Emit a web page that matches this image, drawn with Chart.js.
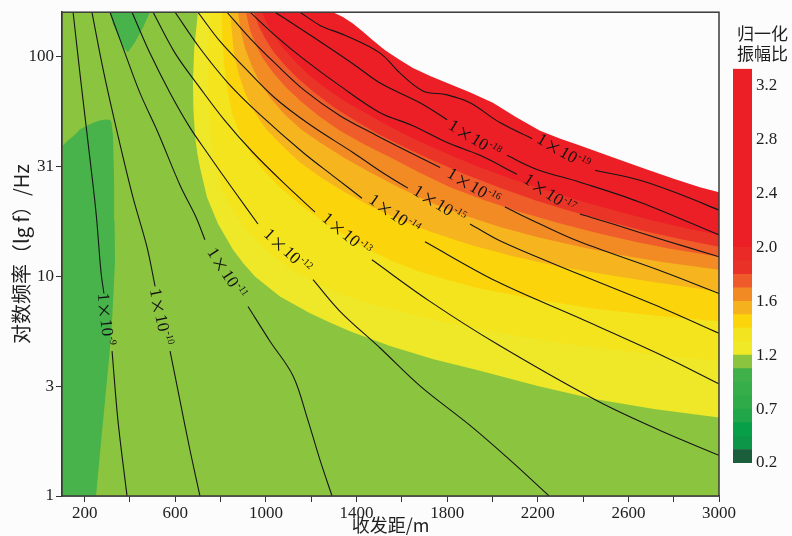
<!DOCTYPE html>
<html>
<head>
<meta charset="utf-8">
<script src="https://cdn.jsdelivr.net/npm/chart.js@4/dist/chart.umd.min.js"></script>
<style>
  html, body { margin:0; padding:0; background:#fcfcfc; }
  #wrap { position:relative; width:792px; height:536px; overflow:hidden; }
  #main { position:absolute; left:0; top:0; }
  #bar { position:absolute; left:720px; top:0; }
</style>
</head>
<body>
<div id="wrap">
  <canvas id="main" width="792" height="536"></canvas>
  <canvas id="bar" width="72" height="536"></canvas>
</div>
<script>
// ---------------- data (x: offset in m, y: lg f) ----------------
const YMAX = 2.2;
const xTickValues = [200,400,600,800,1000,1200,1400,1600,1800,2000,2200,2400,2600,2800,3000];
const xTickLabels = [200,600,1000,1400,1800,2200,2600,3000];
const yTickValues = [0, 0.5, 1, 1.5, 2];
const yTickLabels = ['1', '3', '10', '31', '100'];

// filled bands (boundary, closed through the plot corners)
const greenBase = [[100,0],[3000,0],[3000,2.2],[100,2.2]];
const greenLeft = [[100,0],[250,0],[270,0.220],[290,0.433],[308,0.630],[321,0.795],[334,1.065],[332,1.250],[330,1.427],[325,1.639],[318,1.700],[312,1.711],[290,1.712],[268,1.707],[240,1.698],[210,1.684],[180,1.668],[157,1.643],[125,1.615],[104,1.594],[100,1.594]];
const greenTop = [[312,2.2],[488,2.2],[458,2.131],[422,2.063],[391,2.018],[370,2.040],[356,2.072],[325,2.145]];
const yellowA = [[700,2.2],[684,2.040],[678,1.892],[680,1.760],[687,1.639],[697,1.560],[709,1.494],[740,1.359],[789,1.237],[855,1.120],[900,1.058],[952,0.998],[1062,0.907],[1195,0.831],[1280,0.790],[1371,0.749],[1548,0.682],[1740,0.622],[1945,0.569],[2200,0.500],[2444,0.442],[2720,0.395],[3000,0.357],[3000,2.2]];
const yellowB = [[753,2.2],[746,2.040],[744,1.878],[748,1.740],[758,1.607],[775,1.510],[797,1.427],[830,1.345],[872,1.269],[925,1.198],[983,1.133],[1050,1.075],[1128,1.020],[1220,0.968],[1327,0.921],[1450,0.878],[1592,0.840],[1760,0.797],[1945,0.758],[2160,0.718],[2386,0.682],[2690,0.645],[3000,0.614],[3000,2.2]];
const gold = [[806,2.2],[808,2.080],[815,1.968],[830,1.850],[850,1.743],[885,1.645],[930,1.562],[990,1.480],[1062,1.404],[1145,1.330],[1239,1.260],[1340,1.190],[1446,1.124],[1560,1.068],[1680,1.020],[1810,0.980],[1945,0.944],[2190,0.895],[2444,0.853],[2720,0.820],[3000,0.795],[3000,2.2]];
const amber = [[842,2.2],[859,2.014],[880,1.920],[908,1.833],[948,1.750],[996,1.675],[1070,1.595],[1151,1.517],[1245,1.447],[1349,1.381],[1465,1.317],[1592,1.255],[1740,1.197],[1901,1.142],[2090,1.090],[2298,1.043],[2500,1.007],[2695,0.975],[3000,0.930],[3000,2.2]];
const orange = [[877,2.2],[890,2.110],[908,2.036],[938,1.955],[974,1.878],[1025,1.803],[1084,1.734],[1155,1.668],[1239,1.607],[1345,1.538],[1459,1.472],[1590,1.402],[1724,1.336],[1875,1.277],[2033,1.223],[2205,1.175],[2386,1.133],[2560,1.097],[2740,1.065],[3000,1.029],[3000,2.2]];
const redOrange = [[912,2.2],[928,2.125],[952,2.059],[985,1.993],[1027,1.932],[1085,1.862],[1151,1.797],[1235,1.727],[1327,1.661],[1435,1.598],[1548,1.540],[1680,1.470],[1813,1.404],[1965,1.345],[2122,1.291],[2295,1.240],[2475,1.192],[2630,1.156],[2784,1.124],[3000,1.088],[3000,2.2]];
const redLight = [[947,2.2],[968,2.138],[996,2.081],[1035,2.018],[1084,1.959],[1145,1.895],[1217,1.833],[1300,1.768],[1393,1.707],[1500,1.644],[1614,1.585],[1745,1.522],[1879,1.463],[2030,1.403],[2188,1.345],[2350,1.294],[2519,1.246],[2670,1.205],[2828,1.169],[3000,1.133],[3000,2.2]];
const red = [[983,2.2],[1008,2.143],[1040,2.090],[1080,2.032],[1128,1.977],[1190,1.914],[1261,1.856],[1345,1.797],[1437,1.743],[1545,1.680],[1658,1.621],[1790,1.561],[1923,1.503],[2075,1.445],[2232,1.391],[2395,1.339],[2563,1.291],[2705,1.253],[2850,1.219],[3000,1.187],[3000,2.2]];
const noData = [[1296,2.2],[1340,2.178],[1384,2.149],[1430,2.110],[1472,2.072],[1526,2.027],[1590,1.984],[1649,1.946],[1725,1.910],[1800,1.878],[1900,1.836],[2002,1.788],[2105,1.722],[2210,1.661],[2300,1.624],[2386,1.594],[2530,1.540],[2682,1.485],[2800,1.443],[2916,1.404],[3000,1.381],[3000,2.2]];

// contour lines (null = gap for the label)
const c9  = [[149,2.2],[179,1.923],[215,1.607],[250,1.291],[272,1.020],[285,0.921],null,[321,0.659],[347,0.343],[387,0]];
const c10 = [[232,2.2],[285,1.923],[347,1.639],[413,1.359],[475,1.133],[511,0.953],null,[577,0.659],[621,0.433],[665,0.208],[709,0]];
const c11 = [[312,2.2],[378,2.014],[444,1.833],[524,1.652],[621,1.413],[691,1.269],[731,1.165],null,[921,0.862],[1018,0.704],[1120,0.546],[1186,0.343],[1239,0.163],[1292,0]];
const c12 = [[409,2.2],[488,2.014],[577,1.833],[665,1.675],[740,1.562],[864,1.381],[965,1.237],null,[1208,0.984],[1327,0.840],[1504,0.673],[1680,0.501],[1901,0.321],[2078,0.163],[2250,0]];
const c13 = [[502,2.2],[599,2.014],[709,1.856],[819,1.707],[943,1.562],[1084,1.418],[1217,1.291],null,[1468,1.074],[1724,0.885],[2020,0.691],[2462,0.433],[2740,0.298],[3000,0.185]];
const c14 = [[599,2.2],[709,2.036],[833,1.878],[974,1.734],[1164,1.562],[1305,1.449],[1424,1.354],null,[1702,1.156],[2020,0.975],[2386,0.808],[2753,0.637],[3000,0.510]];
const c15 = [[700,2.2],[797,2.068],[908,1.946],[1040,1.810],[1195,1.688],[1384,1.562],[1526,1.463],[1627,1.400],null,[1901,1.237],[2042,1.156],[2386,1.007],[2753,0.853],[3000,0.740]];
const c16 = [[828,2.2],[930,2.081],[1040,1.968],[1173,1.842],[1327,1.729],[1482,1.643],[1636,1.562],[1769,1.494],null,[2055,1.314],[2210,1.237],[2386,1.156],[2753,1.020],[3000,0.921]];
const c17 = [[930,2.2],[1040,2.095],[1173,1.982],[1327,1.865],[1504,1.743],[1649,1.684],[1800,1.607],[1945,1.549],[2108,1.463],null,[2386,1.282],[2532,1.237],[2740,1.169],[3000,1.088]];
const c18 = [[1040,2.2],[1151,2.126],[1283,2.036],[1393,1.959],[1504,1.878],[1680,1.788],[1800,1.711],null,[2064,1.549],[2197,1.485],[2386,1.427],[2651,1.336],[3000,1.187]];
const c19 = [[1151,2.2],[1239,2.140],[1349,2.095],[1504,2.014],[1592,1.923],[1693,1.842],[1800,1.824],[1901,1.788],[2033,1.698],[2175,1.625],null,[2453,1.481],[2651,1.436],[2828,1.372],[3000,1.300]];

// contour labels: anchor (x, lg f) and exponent text
const labelX = [290, 533, 824, 1093, 1354, 1565, 1764, 1914, 2250, 1919, 2311];
const labelY = [0.804, 0.813, 1.011, 1.111, 1.187, 1.278, 1.323, 1.404, 1.372, 1.621, 1.562];
const labelExp = ['-9','-10','-11','-12','-13','-14','-15','-16','-17','-18','-19'];

// colour bar
const cbTickLabels = ['0.2','0.7','1.2','1.6','2.0','2.4','2.8','3.2'];
const cbSegments = [0.25,0.25,0.25,0.25,0.25,0.25,0.25,0.25,0.25,0.25,0.25,0.25,0.25,0.25,0.25,0.25,3.31];

// ---------------- styles ----------------
const fillSets = [
  [greenBase, '#8bc43f'], [greenLeft, '#48b24b'], [greenTop, '#48b24b'],
  [yellowA, '#eee829'], [yellowB, '#f4e41d'], [gold, '#fbd40c'], [amber, '#f6b41e'],
  [orange, '#f28b24'], [redOrange, '#ef5d2a'], [redLight, '#eb3428'], [red, '#ec1f26'],
  [noData, '#fcfcfc']
];
const contours = [c9, c10, c11, c12, c13, c14, c15, c16, c17, c18, c19];
const labelAngles = [84, 78, 57, 43, 40, 35, 32, 31, 34, 32, 30];
const cbColors = ['#1a5e3b','#0c9647','#07a049','#22a64a','#2fab4a','#36ae4a','#3fb04a','#8bc43f',
                  '#efe927','#f2e520','#fbd40b','#f6b21e','#f28a24','#ee5a2a','#ea3128','#e92a27','#ec1f26'];
const TEXT = '#1e1e1e';
const SERIF = '"Liberation Serif", "DejaVu Serif", serif';
const CJK = '"Noto Sans CJK SC", "Noto Sans", sans-serif';

const toPts = arr => arr.map(p => ({x: p[0], y: p[1]}));
const datasets = [];
fillSets.forEach(([arr, col], i) => {
  datasets.push({
    data: toPts(arr), showLine: true, fill: 'shape', backgroundColor: col,
    borderWidth: 0, borderColor: 'rgba(0,0,0,0)', pointRadius: 0, tension: 0,
    order: 100 - i
  });
});
contours.forEach(arr => {
  let seg = [];
  const segs = [];
  arr.forEach(p => { if (p === null) { segs.push(seg); seg = []; } else seg.push(p); });
  segs.push(seg);
  segs.forEach(s => datasets.push({
    data: toPts(s), showLine: true, fill: false, borderColor: '#161616', borderWidth: 1.1,
    pointRadius: 0, tension: 0.35, order: 1
  }));
});

const labelPlugin = {
  id: 'contourLabels',
  afterDatasetsDraw(chart) {
    const {ctx, scales: {x, y}} = chart;
    labelX.forEach((lx, i) => {
      const px = x.getPixelForValue(lx), py = y.getPixelForValue(labelY[i]);
      ctx.save();
      ctx.translate(px, py);
      ctx.rotate(labelAngles[i] * Math.PI / 180);
      ctx.fillStyle = '#111';
      ctx.textBaseline = 'middle';
      ctx.textAlign = 'left';
      const big = '17px ' + SERIF, cross = '16px ' + CJK, small = '10px ' + SERIF;
      ctx.font = big;
      const w1 = ctx.measureText('1').width, w10 = ctx.measureText('10').width;
      ctx.font = cross;
      const wx = ctx.measureText('×').width;
      ctx.font = small;
      const ws = ctx.measureText(labelExp[i]).width;
      const gap = 1;
      const total = w1 + gap + wx + gap + w10 + 1 + ws;
      let cx = -total / 2;
      ctx.font = big;
      ctx.fillText('1', cx, 0); cx += w1 + gap;
      ctx.font = cross;
      ctx.fillText('×', cx, 0); cx += wx + gap;
      ctx.font = big;
      ctx.fillText('10', cx, 0); cx += w10 + 1;
      ctx.font = small;
      ctx.fillText(labelExp[i], cx, -5);
      ctx.restore();
    });
  }
};
const framePlugin = {
  id: 'frame',
  afterDraw(chart) {
    const {ctx, chartArea: a} = chart;
    ctx.save();
    ctx.strokeStyle = '#3a3a3a';
    ctx.lineWidth = 1.5;
    ctx.strokeRect(a.left, a.top, a.right - a.left, a.bottom - a.top);
    ctx.restore();
  }
};

new Chart(document.getElementById('main'), {
  type: 'scatter',
  data: { datasets },
  plugins: [labelPlugin, framePlugin],
  options: {
    responsive: false, animation: false, devicePixelRatio: 1, events: [],
    layout: { padding: { left: 0, top: 10, right: 73, bottom: 0 } },
    plugins: { legend: { display: false }, tooltip: { enabled: false } },
    scales: {
      x: {
        type: 'linear', min: 100, max: 3000,
        afterBuildTicks: s => { s.ticks = xTickValues.map(v => ({value: v})); },
        afterFit: s => { s.height = 40; },
        ticks: {
          autoSkip: false, maxRotation: 0, padding: 1, color: TEXT,
          font: { family: SERIF, size: 17 },
          callback: v => xTickLabels.includes(v) ? String(v) : ''
        },
        grid: { drawOnChartArea: false, drawTicks: true, tickLength: 6, color: '#333', lineWidth: 1 },
        border: { display: true, color: '#333', width: 1.5 },
        title: { display: true, text: '收发距/m', color: TEXT, font: { family: CJK, size: 18 }, padding: { top: 0, bottom: 0 } }
      },
      y: {
        type: 'linear', min: 0, max: YMAX,
        afterBuildTicks: s => { s.ticks = yTickValues.map(v => ({value: v})); },
        afterFit: s => { s.width = 62; },
        ticks: {
          autoSkip: false, padding: 2, color: TEXT,
          font: { family: SERIF, size: 17 },
          callback: v => { const k = yTickValues.indexOf(v); return k >= 0 ? yTickLabels[k] : ''; }
        },
        grid: { drawOnChartArea: false, drawTicks: true, tickLength: 6, color: '#333', lineWidth: 1 },
        border: { display: true, color: '#333', width: 1.5 },
        title: { display: true, text: '对数频率（lg f）/Hz', color: TEXT, font: { family: CJK, size: 20 }, padding: { top: 9, bottom: 0 } }
      }
    }
  }
});

new Chart(document.getElementById('bar'), {
  type: 'bar',
  data: {
    labels: [''],
    datasets: cbSegments.map((v, i) => ({
      data: [v], backgroundColor: cbColors[i], borderWidth: 0,
      barPercentage: 1, categoryPercentage: 1
    }))
  },
  options: {
    responsive: false, animation: false, devicePixelRatio: 1, events: [],
    layout: { padding: { left: 13, right: 0, top: 0, bottom: 73 } },
    plugins: {
      legend: { display: false }, tooltip: { enabled: false },
      title: {
        display: true, text: ['归一化', '振幅比'], color: TEXT,
        font: { family: CJK, size: 17, weight: 'normal', lineHeight: 1.2 },
        padding: { top: 23, bottom: 5 }
      }
    },
    scales: {
      x: { stacked: true, display: false },
      y: {
        stacked: true, position: 'right', min: 0, max: 7.31,
        afterBuildTicks: s => { s.ticks = cbTickLabels.map((_, i) => ({value: i})); },
        afterFit: s => { s.width = 40; },
        ticks: { padding: 4, color: TEXT, font: { family: SERIF, size: 17 }, callback: v => cbTickLabels[v] },
        grid: { display: false, drawTicks: false },
        border: { display: false }
      }
    }
  }
});
</script>
</body>
</html>
